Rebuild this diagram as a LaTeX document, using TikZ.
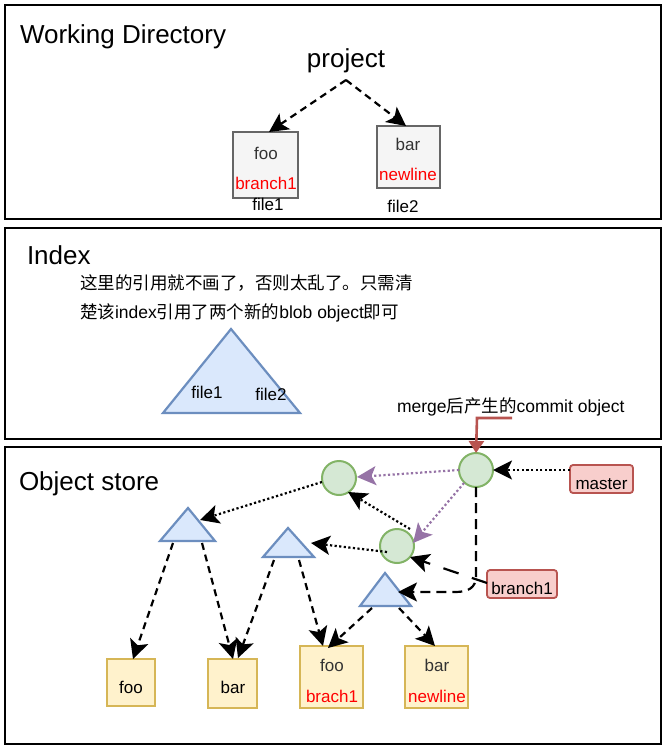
\documentclass[tikz,border=0pt]{standalone}
\usepackage{fontspec}
\setmainfont{Liberation Sans}
\newfontfamily\cjk{Noto Sans CJK SC}
\usetikzlibrary{arrows.meta}
\definecolor{grayfill}{HTML}{F5F5F5}
\definecolor{graydraw}{HTML}{666666}
\definecolor{txtgray}{HTML}{333333}
\definecolor{bluefill}{HTML}{DAE8FC}
\definecolor{bluedraw}{HTML}{6C8EBF}
\definecolor{greenfill}{HTML}{D5E8D4}
\definecolor{greendraw}{HTML}{82B366}
\definecolor{yelfill}{HTML}{FFF2CC}
\definecolor{yeldraw}{HTML}{D6B656}
\definecolor{redfill}{HTML}{F8CECC}
\definecolor{reddraw}{HTML}{B85450}
\definecolor{purp}{HTML}{9673A6}
\definecolor{redtxt}{HTML}{FF0000}
\begin{document}
\begin{tikzpicture}[x=1pt,y=-1pt,
  every node/.style={inner sep=0pt, outer sep=0pt},
  title/.style={font=\fontsize{26}{30}\selectfont, anchor=base west},
  lbl/.style={font=\fontsize{17}{20}\selectfont, anchor=base},
  redlbl/.style={lbl, text=redtxt},
  cjklbl/.style={font=\fontsize{17.5}{20}\selectfont, anchor=base west},
  panel/.style={draw=black, line width=2.2pt},
  graybox/.style={draw=graydraw, fill=grayfill, line width=2.2pt},
  yelbox/.style={draw=yeldraw, fill=yelfill, line width=2.2pt},
  redbox/.style={draw=reddraw, fill=redfill, line width=1.8pt, rounded corners=3pt},
  cnode/.style={circle, draw=greendraw, fill=greenfill, line width=2pt, minimum size=34pt},
  tri/.style={draw=bluedraw, fill=bluefill, line width=2.2pt, line join=miter},
  arr/.style={line width=2.2pt, -{Stealth[length=19pt,width=19pt,inset=4.5pt]}},
  dsh/.style={arr, dash pattern=on 7pt off 5pt},
  dotl/.style={arr, dash pattern=on 2.2pt off 2.4pt},
  pdot/.style={line width=2.2pt, draw=purp, dash pattern=on 2.2pt off 2.4pt, -{Stealth[length=19pt,width=19pt,inset=4.5pt,fill=purp]}},
  longdsh/.style={arr, dash pattern=on 16pt off 14pt},
]
\useasboundingbox (0,0) rectangle (668,751);
\fill[white] (0,0) rectangle (668,751);

% panels
\draw[panel] (5,5) rectangle (661,219);
\draw[panel] (5,228) rectangle (661,439);
\draw[panel] (5,447) rectangle (661,744);

% ---------- Working directory ----------
\node[title] (wdtitle) at (20,44) {Working Directory};
\node[font=\fontsize{26}{30}\selectfont, anchor=base] (project) at (346,68) {project};
\coordinate (projbot) at (346,80);
\node[graybox, minimum width=65pt, minimum height=66pt] (wdfoo) at (265.5,165) {};
\node[graybox, minimum width=63pt, minimum height=62pt] (wdbar) at (408.5,157) {};
\node[lbl, text=txtgray] (wdfootxt) at (266,160) {foo};
\node[redlbl] (wdfoored) at (266,190) {branch1};
\node[lbl, text=txtgray] (wdbartxt) at (408,151) {bar};
\node[redlbl] (wdbarred) at (408,181) {newline};
\node[lbl] (file1a) at (268,211) {file1};
\node[lbl] (file2a) at (403,213) {file2};
\coordinate (wdfootop) at (269,132);
\coordinate (wdbartop) at (406,126);
\draw[dsh] (projbot) -- (wdfootop);
\draw[dsh] (projbot) -- (wdbartop);

% ---------- Index ----------
\node[title] (idxtitle) at (27,264) {Index};
\node[cjklbl] (note1) at (80,289) {\cjk 这里的引用就不画了，否则太乱了。只需清};
\node[cjklbl] (note2) at (80,318) {{\cjk 楚该}index{\cjk 引用了两个新的}blob object{\cjk 即可}};
\coordinate (ia) at (231,329);
\coordinate (ib) at (163,413);
\coordinate (ic) at (300,413);
\draw[tri] (ia) -- (ib) -- (ic) -- cycle;
\node[lbl] (ifile1) at (207,398) {file1};
\node[lbl] (ifile2) at (271,400) {file2};
\node[font=\fontsize{17.5}{20}\selectfont, anchor=base west] (mergenote) at (397,412) {merge{\cjk 后产生的}commit object};

% ---------- Object store ----------
\node[title] (ostitle) at (19,490) {Object store};

% commits
\node[cnode] (c1) at (339,478) {};
\node[cnode] (c2) at (476,470) {};
\node[cnode] (c3) at (397,546) {};

% refs
\node[redbox, minimum width=63pt, minimum height=28pt] (master) at (601.5,479) {};
\node[lbl] (mastertxt) at (601.5,489) {master};
\node[redbox, minimum width=70pt, minimum height=28pt] (branch1) at (522,584) {};
\node[lbl] (branch1txt) at (522,594.5) {branch1};

% trees
\coordinate (t1a) at (188,508); \coordinate (t1b) at (160,541); \coordinate (t1c) at (215,541);
\coordinate (t2a) at (288,528); \coordinate (t2b) at (263,557); \coordinate (t2c) at (314,557);
\coordinate (t3a) at (385,573); \coordinate (t3b) at (360,606); \coordinate (t3c) at (411,606);
\draw[tri] (t1a) -- (t1b) -- (t1c) -- cycle;
\draw[tri] (t2a) -- (t2b) -- (t2c) -- cycle;
\draw[tri] (t3a) -- (t3b) -- (t3c) -- cycle;

% blobs
\node[yelbox, minimum width=48pt, minimum height=47pt] (b1) at (131,682.5) {};
\node[yelbox, minimum width=49pt, minimum height=49pt] (b2) at (232.5,683.5) {};
\node[yelbox, minimum width=63pt, minimum height=62pt] (b3) at (331.5,677) {};
\node[yelbox, minimum width=63pt, minimum height=62pt] (b4) at (436.5,677) {};
\node[lbl] (b1txt) at (131,693) {foo};
\node[lbl] (b2txt) at (233,693) {bar};
\node[lbl, text=txtgray] (b3txt) at (332,671) {foo};
\node[redlbl] (b3red) at (332,702) {brach1};
\node[lbl, text=txtgray] (b4txt) at (437,671) {bar};
\node[redlbl] (b4red) at (437,702) {newline};

% red arrow from merge note
\coordinate (mstart) at (512,418);
\coordinate (mcorner) at (477,418);
\draw[line width=2.6pt, draw=reddraw, -{Triangle[length=12pt,width=15pt,fill=reddraw]}] (mstart) -- (mcorner) -- (c2.north);

% connector coordinates
\coordinate (c1out) at (322,482);
\coordinate (t1in) at (200,520);
\coordinate (c2w) at (459,470);
\coordinate (c1e) at (357,477);
\coordinate (c2sw) at (464,483);
\coordinate (c3ne) at (413,543);
\coordinate (masterw) at (570,470);
\coordinate (c2e) at (493,470);
\coordinate (c3nw) at (410,529);
\coordinate (c1se) at (348,492);
\coordinate (c3in) at (387,552);
\coordinate (t2in) at (311,543);
\coordinate (brw) at (487,583);
\coordinate (c3se) at (410,557);
\coordinate (c2s) at (476,487);
\coordinate (c2turn) at (476,576);
\coordinate (t3in) at (398,592);
\coordinate (t1l) at (173,543); \coordinate (b1top) at (133,659);
\coordinate (t1r) at (202,543); \coordinate (b2topa) at (233,659);
\coordinate (t2l) at (274,560); \coordinate (b2topb) at (238,658);
\coordinate (t2r) at (299,560); \coordinate (b3topa) at (323,646);
\coordinate (t3l) at (372,608); \coordinate (b3topb) at (328,648);
\coordinate (t3r) at (399,608); \coordinate (b4top) at (435,646);

% commit / ref arrows
\draw[dotl] (c1out) -- (t1in);
\draw[pdot] (c2w) -- (c1e);
\draw[pdot] (c2sw) -- (c3ne);
\draw[dotl] (masterw) -- (c2e);
\draw[dotl] (c3nw) -- (c1se);
\draw[dotl] (c3in) -- (t2in);
\draw[longdsh] (brw) -- (c3se);
\draw[arr, dash pattern=on 10pt off 6pt] (c2s) -- (c2turn) .. controls (476,588) and (468,592) .. (455,592) -- (t3in);

% tree -> blob arrows
\draw[dsh] (t1l) -- (b1top);
\draw[dsh] (t1r) -- (b2topa);
\draw[dsh] (t2l) -- (b2topb);
\draw[dsh] (t2r) -- (b3topa);
\draw[dsh] (t3l) -- (b3topb);
\draw[dsh] (t3r) -- (b4top);
\end{tikzpicture}
\end{document}
